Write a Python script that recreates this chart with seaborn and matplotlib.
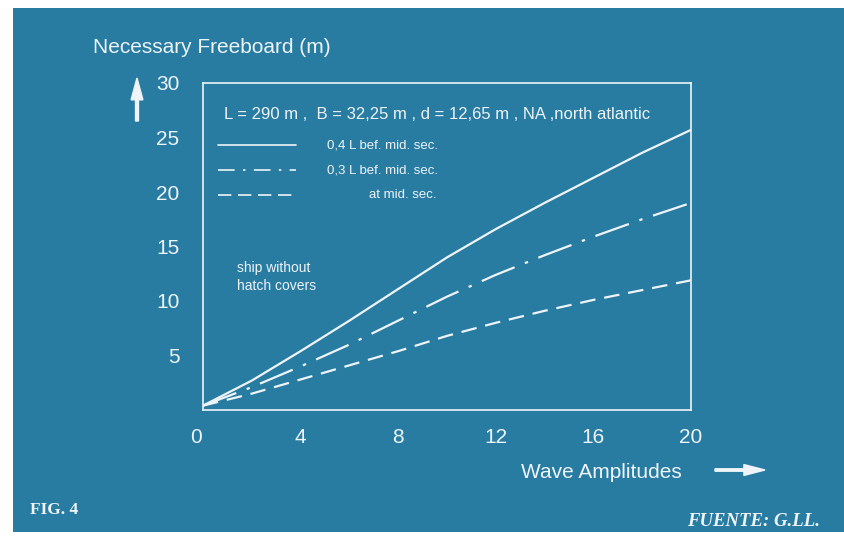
import numpy as np
import pandas as pd
import seaborn as sns
import matplotlib
matplotlib.use("Agg")
import matplotlib.pyplot as plt
import matplotlib.transforms as mtransforms
from matplotlib.patches import Rectangle, FancyArrow

# ---- data ----
wave_amplitude = [0, 2, 4, 6, 8, 10, 12, 14, 16, 18, 20]
freeboard_04L = [0.4, 2.7, 5.4, 8.2, 11.1, 14.0, 16.6, 19.0, 21.3, 23.6, 25.7]
freeboard_03L = [0.4, 2.1, 4.0, 6.0, 8.2, 10.4, 12.4, 14.2, 15.9, 17.5, 19.0]
freeboard_mid = [0.4, 1.5, 2.8, 4.1, 5.4, 6.8, 8.0, 9.1, 10.1, 11.0, 11.9]
series_labels = ["0,4 L bef. mid. sec.", "0,3 L bef. mid. sec.", "at mid. sec."]
x_ticks = [0, 4, 8, 12, 16, 20]
y_ticks = [0, 5, 10, 15, 20, 25, 30]
y_tick_labels = ["", "5", "10", "15", "20", "25", "30"]

df = pd.DataFrame({
    "x": wave_amplitude * 3,
    "y": freeboard_04L + freeboard_03L + freeboard_mid,
    "series": [series_labels[0]] * 11 + [series_labels[1]] * 11 + [series_labels[2]] * 11,
})

BG = "#287ca2"
FG = "#eef4f7"
W, H = 845, 545

sns.set_style("white")
plt.rcParams["font.family"] = ["Liberation Sans", "DejaVu Sans"]

fig = plt.figure(figsize=(W / 100, H / 100), dpi=100)
fig.patch.set_facecolor("white")

def fx(px):
    return px / W

def fy(py):
    return 1 - py / H

# blue card (behind everything)
fig.patches.append(Rectangle((fx(13), fy(532)), fx(845) - fx(13), fy(8) - fy(532),
                             transform=fig.transFigure, facecolor=BG, edgecolor="none", zorder=-10))

ax = fig.add_axes([fx(203), fy(410), fx(691) - fx(203), fy(83) - fy(410)])
ax.set_facecolor("none")
ax.set_zorder(2)

dash_styles = {series_labels[0]: "", series_labels[1]: (16, 5, 1.5, 5), series_labels[2]: (7, 4)}
sns.lineplot(data=df, x="x", y="y", style="series", dashes=dash_styles, color=FG,
             linewidth=1.6, legend=False, ax=ax)

ax.set_xlim(0, 20)
ax.set_ylim(0, 30)
ax.set_xticks(x_ticks)
ax.set_yticks(y_ticks)
ax.set_xticklabels([str(t) for t in x_ticks])
ax.set_yticklabels(y_tick_labels)
ax.set_xlabel("")
ax.set_ylabel("")
for s in ax.spines.values():
    s.set_visible(True)
    s.set_color(FG)
    s.set_linewidth(1.2)
ax.tick_params(axis="both", colors=FG, labelcolor=FG, labelsize=15, length=5, width=1,
               direction="out")
ax.tick_params(axis="x", pad=8)
ax.tick_params(axis="y", pad=12)

# shift the "0" x tick label a bit to the left, as in the original
lbl0 = ax.get_xticklabels()[0]
lbl0.set_transform(lbl0.get_transform() + mtransforms.ScaledTranslation(-7 / 100, 0, fig.dpi_scale_trans))

# in-plot annotations (legend drawn manually like the original)
ax.text(9.6, 27.1, "L = 290 m ,  B = 32,25 m , d = 12,65 m , NA ,north atlantic",
        color=FG, fontsize=12, ha="center", va="center")
leg_y = [24.3, 22.0, 19.7]
leg_text_x = [5.1, 5.1, 6.8]
for lab, ly, tx in zip(series_labels, leg_y, leg_text_x):
    d = dash_styles[lab]
    line, = ax.plot([0.6, 3.8], [ly, ly], color=FG, linewidth=1.2)
    if d:
        line.set_dashes((10, 5, 1.5, 5) if lab == series_labels[1] else (8, 4))
    ax.text(tx, ly, lab, color=FG, fontsize=9.5, ha="left", va="center")

ax.text(1.4, 12.2, "ship without\nhatch covers", color=FG, fontsize=10, ha="left",
        va="center", linespacing=1.3)

# axis titles
fig.text(fx(93), fy(47), "Necessary Freeboard (m)", color=FG, fontsize=15, ha="left", va="center")
fig.text(fx(682), fy(472), "Wave Amplitudes", color=FG, fontsize=15, ha="right", va="center")

# arrows
fig.patches.append(FancyArrow(fx(137), fy(121), 0, fy(78) - fy(121), width=0.0035,
                              head_width=0.014, head_length=0.04, length_includes_head=True,
                              transform=fig.transFigure, color=FG, zorder=5))
fig.patches.append(FancyArrow(fx(715), fy(470), fx(765) - fx(715), 0, width=0.0045,
                              head_width=0.02, head_length=0.025, length_includes_head=True,
                              transform=fig.transFigure, color=FG, zorder=5))

# footer
fig.text(fx(30), fy(510), "FIG. 4", color=FG, fontsize=12.5, family="Liberation Serif",
         weight="bold", ha="left", va="center")
fig.text(fx(820), fy(521), "FUENTE: G.LL.", color=FG, fontsize=13.5, family="Liberation Serif",
         style="italic", weight="bold", ha="right", va="center")

fig.savefig("out.png", dpi=100, facecolor=fig.get_facecolor())
